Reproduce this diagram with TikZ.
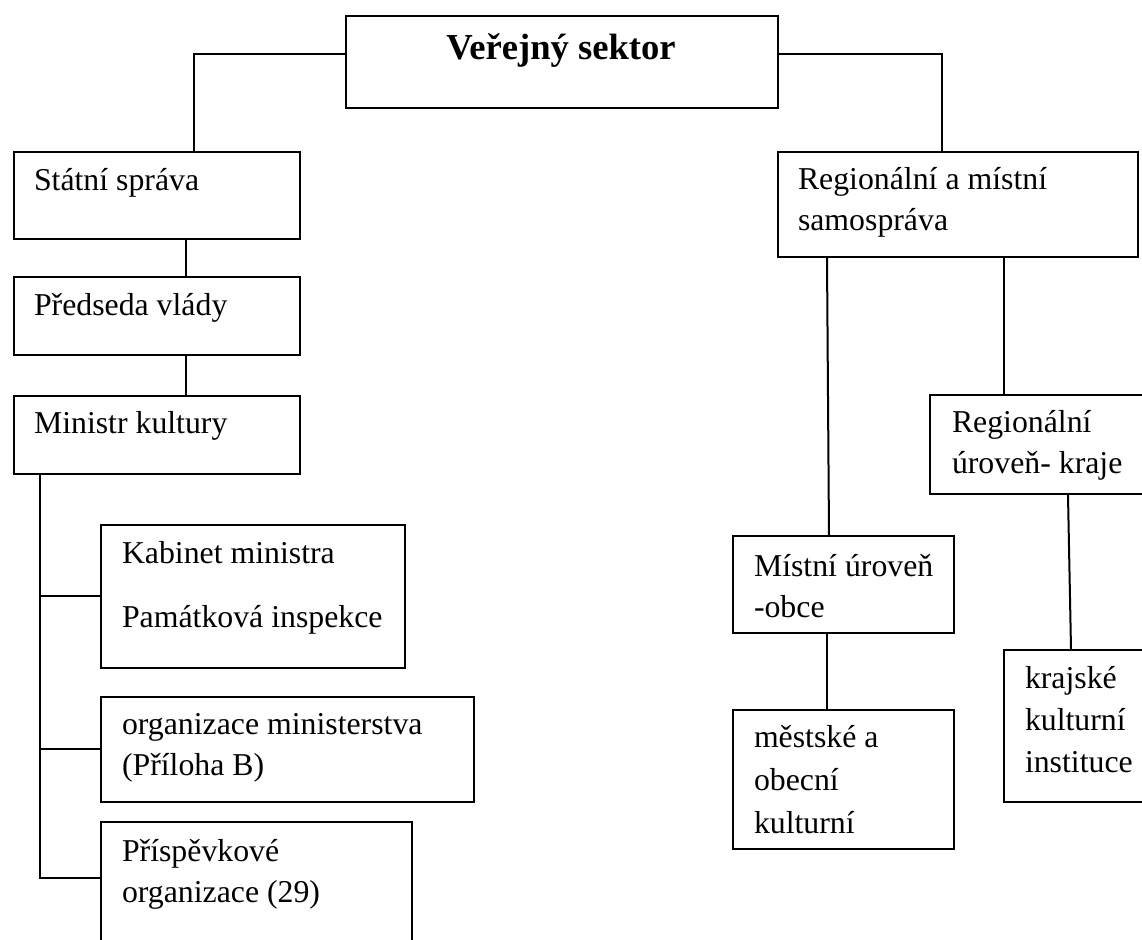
\documentclass[tikz,border=0pt]{standalone}
\usepackage{fontspec}
\setmainfont{Liberation Serif}

\begin{document}
\begin{tikzpicture}[x=0.5pt, y=-0.5pt, line width=1pt,
	box/.style={draw, rectangle, inner sep=0pt, anchor=north west},
	txt/.style={inner sep=0pt, anchor=base west, align=left, font=\fontsize{15.9}{20.5}\selectfont}]
\useasboundingbox (0,0) rectangle (1142,940);
\clip (0,0) rectangle (1142,940);

\node[box, minimum width=216pt, minimum height=46pt] (sektor) at (345,15) {};
\node[box, minimum width=143pt, minimum height=43.5pt] (statni) at (13,151) {};
\node[box, minimum width=143pt, minimum height=39pt] (predseda) at (13,276) {};
\node[box, minimum width=143pt, minimum height=39pt] (ministr) at (13,395) {};
\node[box, minimum width=152pt, minimum height=71.5pt] (kabinet) at (100,524) {};
\node[box, minimum width=186.5pt, minimum height=52.5pt] (orgmin) at (100,696) {};
\node[box, minimum width=155.5pt, minimum height=75pt] (prisp) at (100,821) {};
\node[box, minimum width=180pt, minimum height=52.5pt] (region) at (777,151) {};
\node[box, minimum width=115pt, minimum height=49.5pt] (kraje) at (929,394) {};
\node[box, minimum width=110.5pt, minimum height=48.5pt] (mistni) at (732,535) {};
\node[box, minimum width=80pt, minimum height=76pt] (krajske) at (1003,649) {};
\node[box, minimum width=110.5pt, minimum height=69.5pt] (mestske) at (732,709) {};

\node[inner sep=0pt, anchor=base, font=\fontsize{18.3}{22}\selectfont\bfseries] (sektor-t) at (561,60) {Veřejný sektor};
\node[txt] (statni-t) at (33,191) {Státní správa};
\node[txt] (predseda-t) at (33,316) {Předseda vlády};
\node[txt] (ministr-t) at (33,434) {Ministr kultury};
\node[txt] (kabinet-t) at (121,628) {Kabinet ministra\\[11.5pt]Památková inspekce};
\node[txt] (orgmin-t) at (121,776) {organizace ministerstva\\(Příloha B)};
\node[txt] (prisp-t) at (121,903) {Příspěvkové\\organizace (29)};
\node[txt] (region-t) at (797,231) {Regionální a místní\\samospráva};
\node[txt] (kraje-t) at (951,474) {Regionální\\úroveň- kraje};
\node[txt] (mistni-t) at (753,618) {Místní úroveň\\-obce};
\node[txt] (mestske-t) at (753,834) {městské a\\[1pt]obecní\\[1pt]kulturní};
\node[txt] (krajske-t) at (1024,773) {krajské\\[0.5pt]kulturní\\[0.5pt]instituce};

\draw ([yshift=4pt]sektor.west) -| ([xshift=18.5pt]statni.north);
\draw ([yshift=4pt]sektor.east) -| ([xshift=-8pt]region.north);
\draw ([xshift=14.5pt]statni.south) -- ([xshift=14.5pt]predseda.north);
\draw ([xshift=14.5pt]predseda.south) -- ([xshift=14.5pt]ministr.north);
\coordinate (trunk) at ([xshift=-58.5pt]ministr.south);
\draw (trunk) |- ([yshift=9.5pt]prisp.west);
\draw (kabinet.west) -- (kabinet.west -| trunk);
\draw (orgmin.west) -- (orgmin.west -| trunk);
\draw ([xshift=-65.5pt]region.south) -- ([xshift=-7.25pt]mistni.north);
\draw ([xshift=23pt]region.south) -- ([xshift=-20.5pt]kraje.north);
\draw ([xshift=11.5pt]kraje.south) -- ([xshift=-6.5pt]krajske.north);
\draw ([xshift=-8.25pt]mistni.south) -- ([xshift=-8.25pt]mestske.north);

\end{tikzpicture}
\end{document}
